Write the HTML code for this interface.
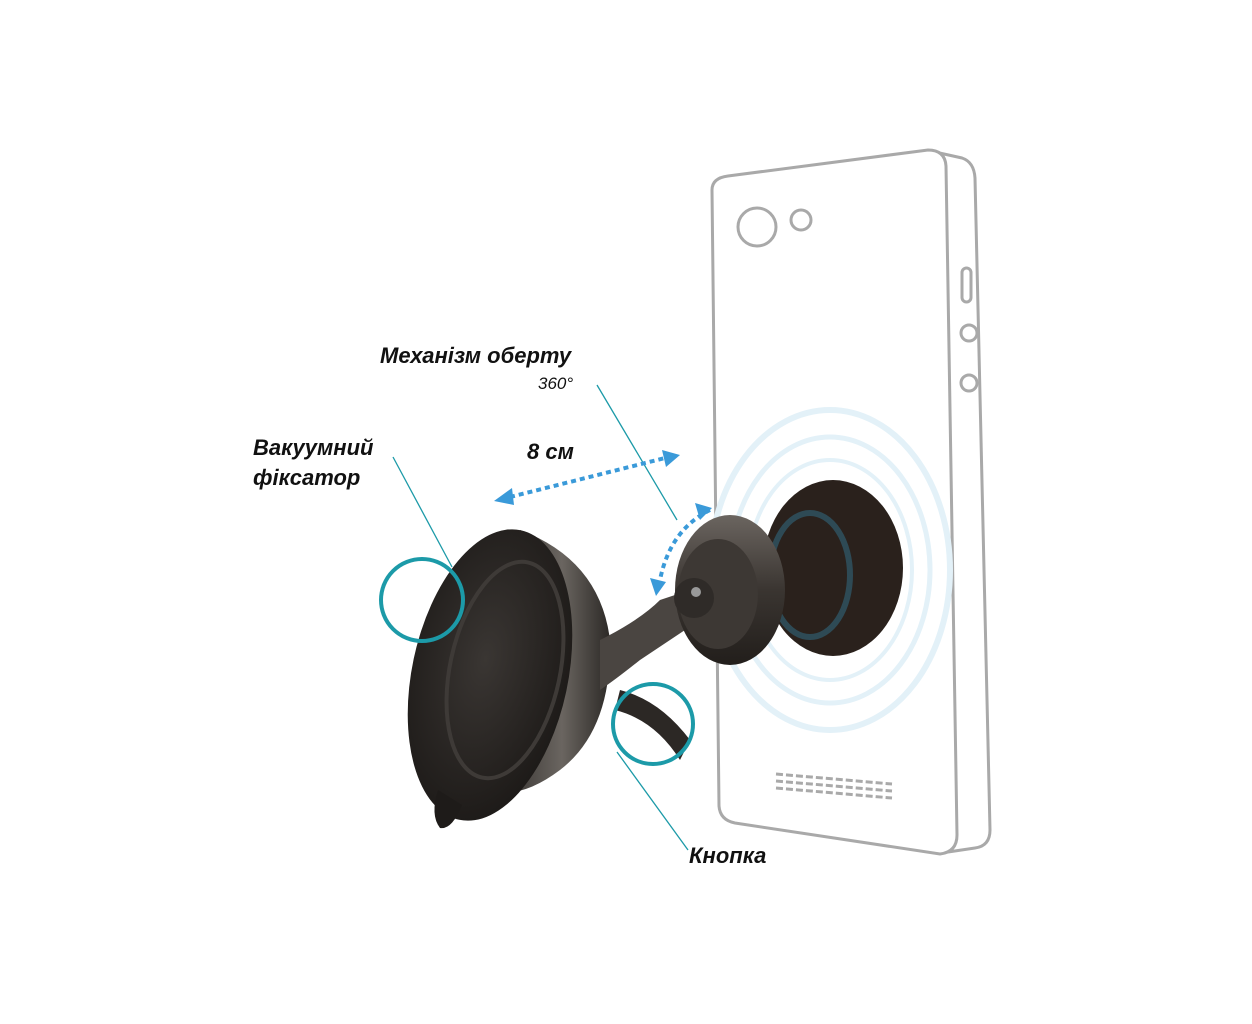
<!DOCTYPE html>
<html><head><meta charset="utf-8"><style>
html,body{margin:0;padding:0;background:#fff;}
svg{display:block}
text{font-family:"Liberation Sans",sans-serif;font-style:italic;font-weight:bold;fill:#111}
</style></head><body>
<svg width="1252" height="1024" viewBox="0 0 1252 1024" xmlns="http://www.w3.org/2000/svg">
<defs>
<radialGradient id="cup" cx="0.45" cy="0.45" r="0.6"><stop offset="0" stop-color="#3a3633"/><stop offset="1" stop-color="#1c1917"/></radialGradient>
<linearGradient id="cone" x1="0" y1="0" x2="1" y2="0"><stop offset="0" stop-color="#2a2725"/><stop offset="0.6" stop-color="#6a6560"/><stop offset="1" stop-color="#2c2926"/></linearGradient>
<linearGradient id="knob" x1="0" y1="0" x2="0" y2="1"><stop offset="0" stop-color="#6b6560"/><stop offset="0.5" stop-color="#3a3531"/><stop offset="1" stop-color="#221e1b"/></linearGradient>
</defs>
<path d="M935,152 L962,158 Q974,162 975,178 L990,830 Q990,846 975,848 L948,852" fill="none" stroke="#a9a9a9" stroke-width="3"/>
<path d="M712,190 Q712,178 728,176 L928,150 Q945,150 946,166 L957,835 Q957,852 940,854 L735,823 Q720,820 719,806 Z" fill="#fff" stroke="#a9a9a9" stroke-width="3"/>
<rect x="962" y="268" width="9" height="34" rx="4.5" fill="none" stroke="#a9a9a9" stroke-width="3"/>
<circle cx="969" cy="333" r="8" fill="none" stroke="#a9a9a9" stroke-width="3"/>
<circle cx="969" cy="383" r="8" fill="none" stroke="#a9a9a9" stroke-width="3"/>
<circle cx="757" cy="227" r="19" fill="none" stroke="#a9a9a9" stroke-width="3"/>
<circle cx="801" cy="220" r="10" fill="none" stroke="#a9a9a9" stroke-width="3"/>
<g stroke="#a9a9a9" stroke-width="3" stroke-dasharray="7,3">
<line x1="776" y1="774" x2="892" y2="784"/><line x1="776" y1="781" x2="892" y2="791"/><line x1="776" y1="788" x2="892" y2="798"/>
</g>
<g fill="none" stroke="#e3f1f8">
<ellipse cx="830" cy="570" rx="120" ry="160" stroke-width="6"/>
<ellipse cx="830" cy="570" rx="100" ry="133" stroke-width="5"/>
<ellipse cx="830" cy="570" rx="82" ry="110" stroke-width="4"/>
</g>
<ellipse cx="833" cy="568" rx="70" ry="88" fill="#2a211c"/>
<ellipse cx="810" cy="575" rx="40" ry="62" fill="none" stroke="#2e4a55" stroke-width="6"/>
<path d="M520,530 Q600,560 610,640 Q612,730 560,770 Q520,800 490,790 Z" fill="url(#cone)"/>
<path d="M600,640 Q640,620 660,600 L690,590 L700,620 Q670,640 640,660 Q615,680 600,690 Z" fill="#4a4541"/>
<path d="M620,690 Q660,700 690,740 L680,760 Q655,720 615,710 Z" fill="#2c2825"/>
<ellipse cx="490" cy="675" rx="78" ry="148" transform="rotate(12 490 675)" fill="url(#cup)"/>
<ellipse cx="505" cy="670" rx="55" ry="110" transform="rotate(12 505 670)" fill="none" stroke="#3e3a37" stroke-width="4"/>
<path d="M438,790 Q430,815 440,828 Q452,830 462,805 Z" fill="#1e1b19"/>
<ellipse cx="730" cy="590" rx="55" ry="75" fill="url(#knob)"/>
<ellipse cx="718" cy="594" rx="40" ry="55" fill="#3d3834"/>
<circle cx="694" cy="598" r="20" fill="#2f2b28"/>
<circle cx="696" cy="592" r="5" fill="#999"/>
<circle cx="422" cy="600" r="41" fill="none" stroke="#1c9aa8" stroke-width="4"/>
<circle cx="653" cy="724" r="40" fill="none" stroke="#1c9aa8" stroke-width="4"/>
<g stroke="#1c9aa8" stroke-width="1.3">
<line x1="393" y1="457" x2="452" y2="567"/>
<line x1="597" y1="385" x2="677" y2="520"/>
<line x1="617" y1="752" x2="688" y2="850"/>
</g>
<g stroke="#3a9ad9" stroke-width="4" stroke-dasharray="5,4" fill="none">
<line x1="510" y1="497" x2="665" y2="458"/>
<path d="M710,510 Q670,530 660,580"/>
</g>
<g fill="#3a9ad9">
<polygon points="494,501 512,488 514,505"/>
<polygon points="680,455 662,450 666,467"/>
<polygon points="712,508 695,503 700,520"/>
<polygon points="656,596 650,578 666,582"/>
</g>
<text x="380" y="363" font-size="22">Механізм оберту</text>
<text x="538" y="389" font-size="17" style="font-weight:normal">360°</text>
<text x="253" y="455" font-size="22">Вакуумний</text>
<text x="253" y="485" font-size="22">фіксатор</text>
<text x="527" y="459" font-size="22">8 см</text>
<text x="689" y="863" font-size="22">Кнопка</text>
</svg>
</body></html>
